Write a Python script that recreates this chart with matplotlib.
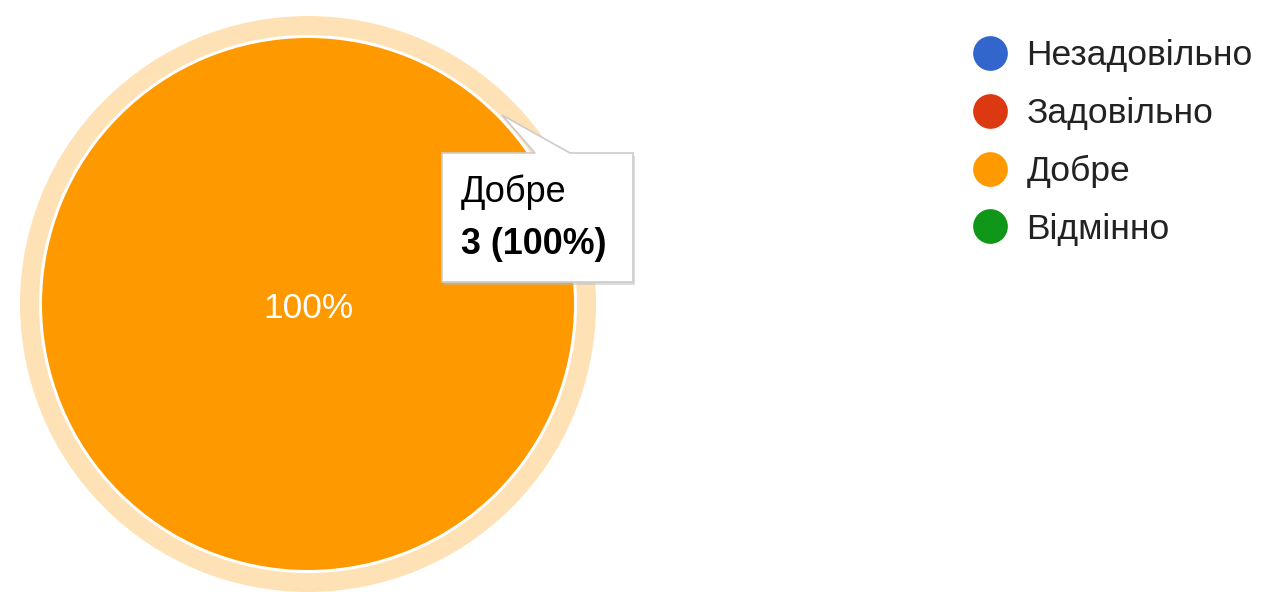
import matplotlib
matplotlib.use("Agg")
import matplotlib.pyplot as plt
from matplotlib.patches import Wedge, Polygon
from matplotlib.lines import Line2D

plt.rcParams['font.family'] = ['Liberation Sans', 'DejaVu Sans']

categories = ['Незадовільно', 'Задовільно', 'Добре', 'Відмінно']
counts = [0, 0, 3, 0]
colors = ['#3366CC', '#DC3912', '#FF9900', '#109618']
hover_label = 'Добре'

W, H = 1264, 592
fig = plt.figure(figsize=(W / 100, H / 100), dpi=100)
ax = fig.add_axes([0, 0, 1, 1])

def py(y):
    return H - y

cx, cy, r = 308, py(304), 266
total = sum(counts)

wedges, texts, autotexts = ax.pie(
    counts, colors=colors, center=(cx, cy), radius=r,
    startangle=90, counterclock=False,
    autopct=lambda p: f'{p:.0f}%' if p > 0 else '',
    pctdistance=0.0, wedgeprops=dict(edgecolor='none', linewidth=0),
    textprops=dict(color='white', fontsize=25.4))
for t in autotexts:
    x0, y0 = t.get_position()
    t.set_position((x0, y0 - 4))

# hover halo around highlighted slice
hi = categories.index(hover_label)
ax.add_patch(Wedge((cx, cy), 288, 0, 360, width=19,
                   facecolor='#FFE1B6', edgecolor='none', zorder=0.5))

# tooltip
box = [(442, 153), (535, 153), (502, 115), (570, 153), (633, 153), (633, 282), (442, 282)]
shadow = Polygon([(x + 2, py(y + 3)) for x, y in box], closed=True,
                 facecolor='#BBBBBB', edgecolor='none', alpha=0.5, zorder=3)
ax.add_patch(shadow)
ax.add_patch(Polygon([(x, py(y)) for x, y in box], closed=True,
                     facecolor='white', edgecolor='#CCCCCC', linewidth=1.2, zorder=4))
pct = counts[hi] / total * 100
ax.text(461, py(192), categories[hi], fontsize=26, color='black',
        ha='left', va='center', zorder=5)
ax.text(461, py(244), f'{counts[hi]} ({pct:.0f}%)', fontsize=25.8,
        fontweight='bold', color='black', ha='left', va='center', zorder=5)

# legend
handles = [Line2D([], [], marker='o', linestyle='none', markersize=25,
                  markerfacecolor=c, markeredgecolor='none') for c in colors]
leg = ax.legend(handles, categories, loc='upper left',
                bbox_to_anchor=(955 / W, 1 - 25 / H), frameon=False,
                fontsize=25.5, labelspacing=0.70, handletextpad=0.42,
                handlelength=1.2, borderaxespad=0)
for t in leg.get_texts():
    t.set_color('#222222')

ax.set_xlim(0, W)
ax.set_ylim(0, H)
ax.set_aspect('auto')
ax.axis('off')

fig.savefig('out.png', dpi=100)
